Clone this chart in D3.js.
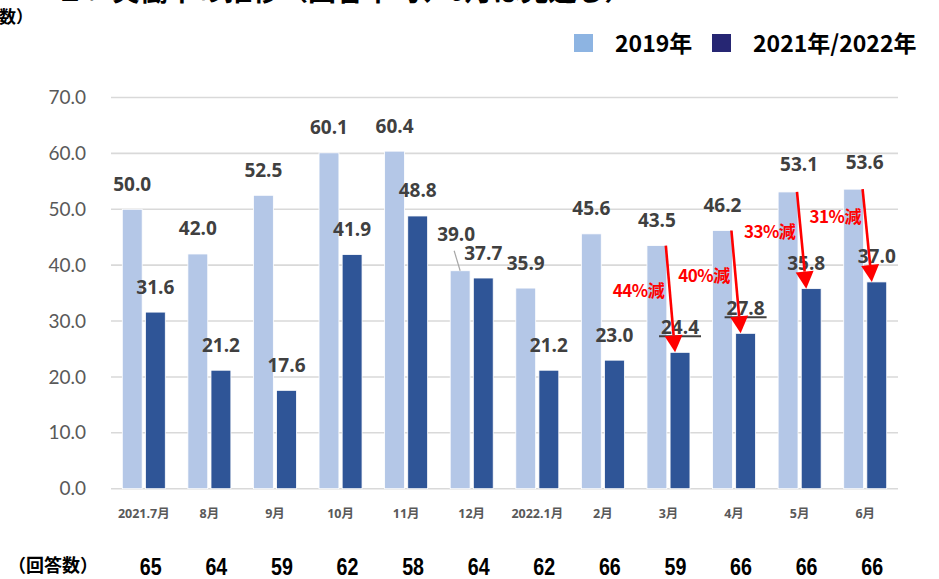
<!DOCTYPE html>
<html>
<head>
<meta charset="utf-8">
<script src="https://cdn.jsdelivr.net/npm/d3@7"></script>
<style>
  body { margin: 0; background: #fff; }
  svg { display: block; }
</style>
</head>
<body>
<div id="chart"></div>
<script>
const categories = ["2021.7月", "8月", "9月", "10月", "11月", "12月", "2022.1月", "2月", "3月", "4月", "5月", "6月"];
const values2019 = [50.0, 42.0, 52.5, 60.1, 60.4, 39.0, 35.9, 45.6, 43.5, 46.2, 53.1, 53.6];
const valuesCurrent = [31.6, 21.2, 17.6, 41.9, 48.8, 37.7, 21.2, 23.0, 24.4, 27.8, 35.8, 37.0];
const responses = [65, 64, 59, 62, 58, 64, 62, 66, 59, 66, 66, 66];
const yTicks = [0, 10, 20, 30, 40, 50, 60, 70];
const seriesNames = ["2019年", "2021年/2022年"];

// reduction callouts (red arrows)
const reductionCats = ["3月", "4月", "5月", "6月"];
const reductionLabels = ["44%減", "40%減", "33%減", "31%減"];
const reductionLabelAt = [34.3, 37.0, 44.9, 47.5];
const underlinedCats = ["3月", "4月"];

const width = 939, height = 579;
const margin = { left: 111, right: 41, top: 97.5, bottom: 90.3 };

const svg = d3.select("#chart").append("svg")
  .attr("width", width)
  .attr("height", height);

const x = d3.scaleBand()
  .domain(categories)
  .range([margin.left, width - margin.right]);

const y = d3.scaleLinear()
  .domain([0, 70])
  .range([height - margin.bottom, margin.top]);

const sub = d3.scaleBand()
  .domain(["a", "b"])
  .range([-21.5, 21.5])
  .paddingInner(0.14);

const center = c => x(c) + x.bandwidth() / 2;
const lightX = c => center(c) + sub("a");
const darkX = c => center(c) + sub("b");

const rows = categories.map((c, i) => ({ cat: c, a: values2019[i], b: valuesCurrent[i], n: responses[i] }));

// cut-off heading at the very top
svg.append("text")
  .attr("x", 56).attr("y", 1)
  .attr("font-family", "'Noto Sans CJK JP'")
  .attr("font-weight", 700)
  .attr("font-size", 28)
  .attr("fill", "#000")
  .text("２．実働率の推移（回答平均、6月は見通し）");

svg.append("text")
  .attr("x", 33).attr("y", 23)
  .attr("text-anchor", "end")
  .attr("font-family", "'Noto Sans CJK JP'")
  .attr("font-weight", 700)
  .attr("font-size", 17)
  .text("（回答数）");

// gridlines
svg.append("g")
  .selectAll("line")
  .data(yTicks)
  .join("line")
  .attr("x1", margin.left)
  .attr("x2", width - margin.right)
  .attr("y1", d => y(d))
  .attr("y2", d => y(d))
  .attr("stroke", "#D9D9D9")
  .attr("stroke-width", 1.6);

// y axis labels
const yAxis = svg.append("g")
  .attr("transform", `translate(${margin.left - 22},0)`)
  .call(d3.axisLeft(y).tickValues(yTicks).tickFormat(d3.format(".1f")).tickSize(0));
yAxis.select(".domain").remove();
yAxis.selectAll("text")
  .attr("font-family", "Lato")
  .attr("font-size", 19)
  .attr("fill", "#595959")
  .attr("dx", 0);

// bars
svg.append("g")
  .selectAll("rect")
  .data(rows)
  .join("rect")
  .attr("x", d => lightX(d.cat))
  .attr("y", d => y(d.a))
  .attr("width", sub.bandwidth())
  .attr("height", d => y(0) - y(d.a))
  .attr("fill", "#B4C7E7")
  .attr("stroke", "#fff")
  .attr("stroke-width", 0.8);

svg.append("g")
  .selectAll("rect")
  .data(rows)
  .join("rect")
  .attr("x", d => darkX(d.cat))
  .attr("y", d => y(d.b))
  .attr("width", sub.bandwidth())
  .attr("height", d => y(0) - y(d.b))
  .attr("fill", "#2F5597")
  .attr("stroke", "#fff")
  .attr("stroke-width", 0.8);

// x axis labels
const xAxis = svg.append("g")
  .attr("transform", `translate(0,${y(0)})`)
  .call(d3.axisBottom(x).tickSize(0).tickPadding(20));
xAxis.select(".domain").remove();
xAxis.selectAll("text")
  .attr("font-family", "'Open Sans', 'Noto Sans CJK JP'")
  .attr("font-weight", 700)
  .attr("font-size", 12.5)
  .attr("fill", "#595959");

// data labels (some moved by hand in the original)
const nudge = {
  "12月": { a: [-4, -11] },
  "5月": { a: [11, -2], b: [-5, 0] },
  "6月": { a: [11, -2] }
};
const labelFont = g => g
  .attr("font-family", "'Open Sans'")
  .attr("font-weight", 700)
  .attr("font-size", 19)
  .attr("fill", "#404040")
  .attr("text-anchor", "middle");

["a", "b"].forEach(k => {
  svg.append("g")
    .call(labelFont)
    .selectAll("text")
    .data(rows)
    .join("text")
    .attr("x", d => center(d.cat) + sub(k) + sub.bandwidth() / 2 + ((nudge[d.cat] && nudge[d.cat][k]) ? nudge[d.cat][k][0] : 0))
    .attr("y", d => y(d[k]) - 18.5 + ((nudge[d.cat] && nudge[d.cat][k]) ? nudge[d.cat][k][1] : 0))
    .text(d => d3.format(".1f")(d[k]));
});

// leader line for 12月 2019 label
const lead = rows.find(d => d.cat === "12月");
svg.append("line")
  .attr("x1", lightX(lead.cat) + sub.bandwidth() / 2 - 6)
  .attr("y1", y(lead.a) - 20)
  .attr("x2", lightX(lead.cat) + sub.bandwidth() / 2)
  .attr("y2", y(lead.a))
  .attr("stroke", "#A6A6A6")
  .attr("stroke-width", 1.2);

// underlines under some current-year labels
svg.append("g")
  .selectAll("line")
  .data(rows.filter(d => underlinedCats.includes(d.cat)))
  .join("line")
  .attr("x1", d => darkX(d.cat) + sub.bandwidth() / 2 - 21)
  .attr("x2", d => darkX(d.cat) + sub.bandwidth() / 2 + 21)
  .attr("y1", d => y(d.b) - 16)
  .attr("y2", d => y(d.b) - 16)
  .attr("stroke", "#404040")
  .attr("stroke-width", 2);

// red reduction arrows
const red = "#FF0000";
reductionCats.forEach((c, i) => {
  const d = rows.find(r => r.cat === c);
  const x1 = lightX(c) + sub.bandwidth() - 1, y1 = y(d.a);
  const x2 = darkX(c) + 5, y2 = y(d.b);
  const ang = Math.atan2(y2 - y1, x2 - x1);
  const len = 17, half = 9;
  const bx = x2 - len * Math.cos(ang), by = y2 - len * Math.sin(ang);
  const px = -Math.sin(ang) * half, py = Math.cos(ang) * half;
  svg.append("line")
    .attr("x1", x1).attr("y1", y1)
    .attr("x2", bx).attr("y2", by)
    .attr("stroke", red)
    .attr("stroke-width", 2.6);
  svg.append("path")
    .attr("d", `M${x2},${y2}L${bx + px},${by + py}L${bx - px},${by - py}Z`)
    .attr("fill", red);
  svg.append("text")
    .attr("x", center(c) - 30)
    .attr("y", y(reductionLabelAt[i]))
    .attr("text-anchor", "middle")
    .attr("font-family", "'Noto Sans CJK JP'")
    .attr("font-weight", 700)
    .attr("font-size", 17)
    .attr("letter-spacing", -0.5)
    .attr("fill", red)
    .text(reductionLabels[i]);
});

// legend
const legendColors = ["#8DB4E2", "#262673"];
const legendX = [574, 712];
const legend = svg.append("g");
seriesNames.forEach((name, i) => {
  legend.append("rect")
    .attr("x", legendX[i]).attr("y", 34)
    .attr("width", 19).attr("height", 18)
    .attr("fill", legendColors[i]);
  legend.append("text")
    .attr("x", legendX[i] + 41).attr("y", 51.5)
    .attr("font-family", "'Noto Sans CJK JP'")
    .attr("font-weight", 700)
    .attr("font-size", 23)
    .attr("fill", "#000")
    .text(name);
});

// response counts row
svg.append("text")
  .attr("x", 8).attr("y", 572)
  .attr("font-family", "'Noto Sans CJK JP'")
  .attr("font-weight", 700)
  .attr("font-size", 18)
  .text("（回答数）");

svg.append("g")
  .selectAll("text")
  .data(rows)
  .join("text")
  .attr("transform", d => `translate(${center(d.cat) + 7},575) scale(0.82,1)`)
  .attr("text-anchor", "middle")
  .attr("font-family", "'Liberation Sans', Arial")
  .attr("font-weight", 700)
  .attr("font-size", 24)
  .text(d => d.n);
</script>
</body>
</html>
